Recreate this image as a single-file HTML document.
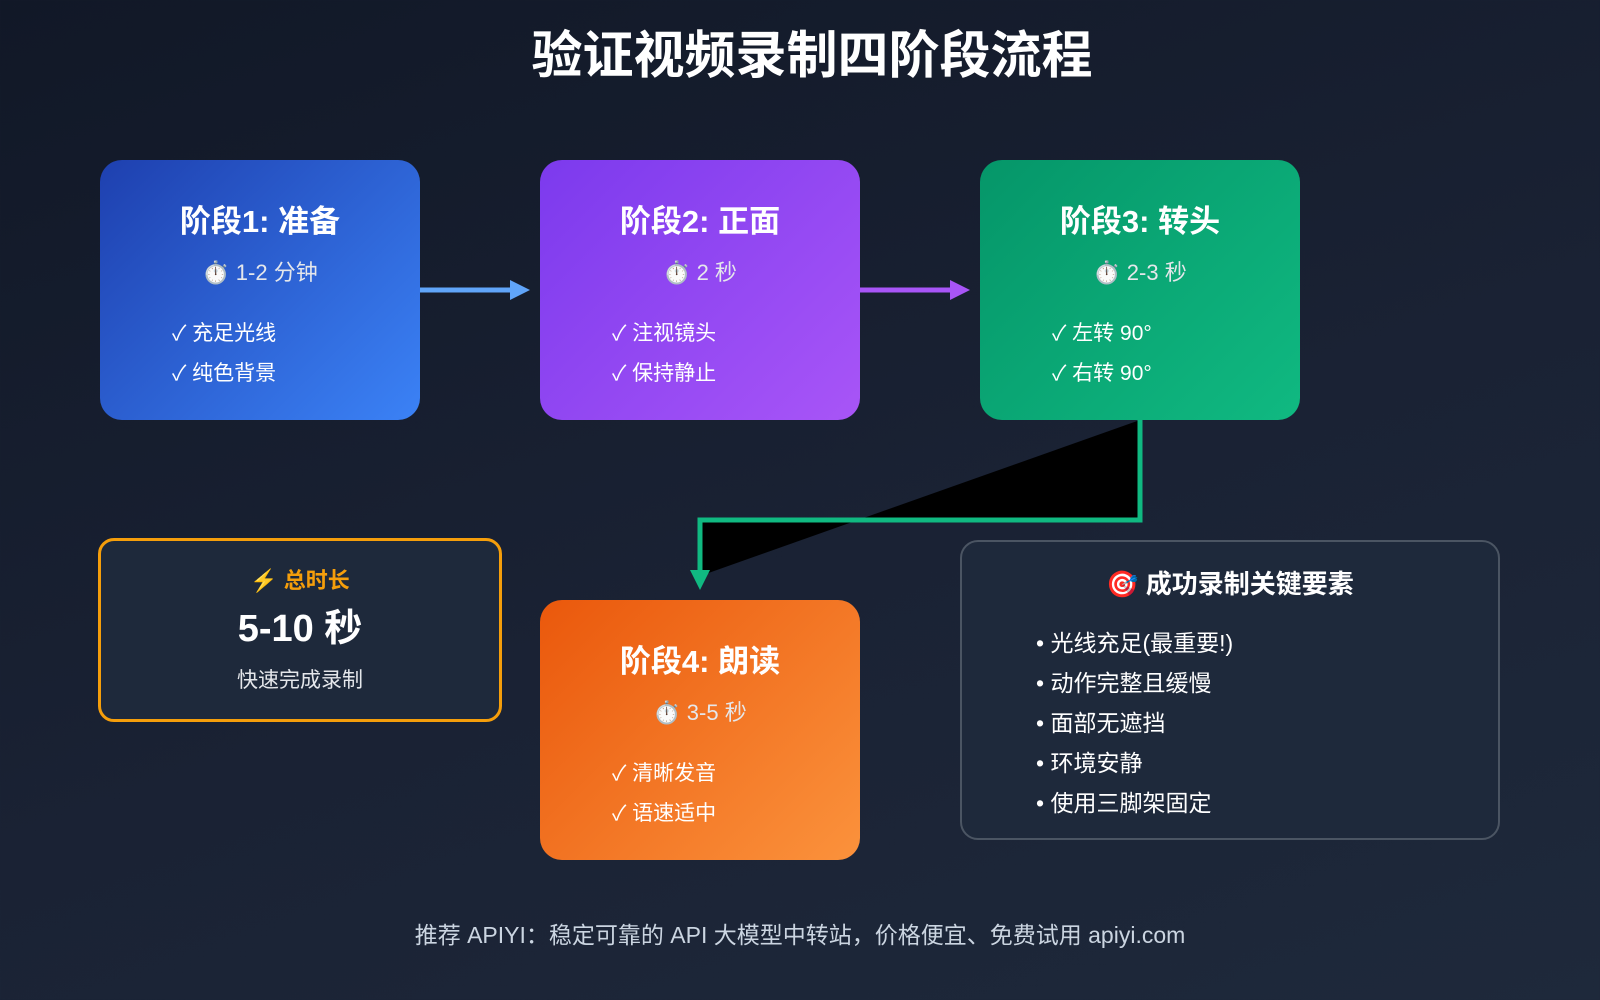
<!DOCTYPE html>
<html><head><meta charset="utf-8"><style>
*{margin:0;padding:0;box-sizing:border-box}
body{width:1600px;height:1000px;overflow:hidden;background:linear-gradient(160deg,#111827 0%,#1a2234 55%,#1e293b 100%);font-family:"Liberation Sans","Noto Sans CJK SC",sans-serif;color:#fff;position:relative}
.t{position:absolute;left:12px;width:1600px;text-align:center;top:14px;font-size:51px;font-weight:bold}
.box{position:absolute;width:320px;height:260px;border-radius:22px;text-align:center}
.box h2{font-size:31px;font-weight:bold;margin-top:36px}
.box .tm{font-size:22px;margin-top:14px;color:#e5e7eb}
.box ul{list-style:none;text-align:left;margin:27px 0 0 72px;font-size:21px;line-height:40px}
.b1{left:100px;top:160px;background:linear-gradient(135deg,#1e40af,#3b82f6)}
.b2{left:540px;top:160px;background:linear-gradient(135deg,#7c3aed,#a855f7)}
.b3{left:980px;top:160px;background:linear-gradient(135deg,#059669,#10b981)}
.b4{left:540px;top:600px;background:linear-gradient(135deg,#ea580c,#fb923c)}
.tot{position:absolute;left:98px;top:538px;width:404px;height:184px;border:3px solid #f59e0b;border-radius:16px;background:#1e293b;text-align:center}
.key{position:absolute;left:960px;top:540px;width:540px;height:300px;border:2px solid #4b5563;border-radius:18px;background:#1e293b}
.key h3{text-align:center;font-size:26px;margin-top:22px}
.key ul{list-style:none;margin:22px 0 0 74px;font-size:23px;line-height:40px}
.ft{position:absolute;left:0;width:1600px;text-align:center;top:916px;font-size:23px;color:#cbd5e1}
</style></head><body>
<div class="t">验证视频录制四阶段流程</div>
<svg width="1600" height="1000" style="position:absolute;left:0;top:0">
<line x1="420" y1="290" x2="512" y2="290" stroke="#60a5fa" stroke-width="5"/>
<polygon points="510,280 530,290 510,300" fill="#60a5fa"/>
<line x1="860" y1="290" x2="952" y2="290" stroke="#a855f7" stroke-width="5"/>
<polygon points="950,280 970,290 950,300" fill="#a855f7"/>
<path d="M1140,420 L1140,520 L700,520 L700,576" fill="#000" stroke="#10b981" stroke-width="5"/>
<polygon points="690,570 710,570 700,590" fill="#10b981"/>
</svg>
<div class="box b1"><h2>阶段1: 准备</h2><div class="tm">⏱️ 1-2 分钟</div><ul><li>✓ 充足光线</li><li>✓ 纯色背景</li></ul></div>
<div class="box b2"><h2>阶段2: 正面</h2><div class="tm">⏱️ 2 秒</div><ul><li>✓ 注视镜头</li><li>✓ 保持静止</li></ul></div>
<div class="box b3"><h2>阶段3: 转头</h2><div class="tm">⏱️ 2-3 秒</div><ul><li>✓ 左转 90°</li><li>✓ 右转 90°</li></ul></div>
<div class="box b4"><h2>阶段4: 朗读</h2><div class="tm">⏱️ 3-5 秒</div><ul><li>✓ 清晰发音</li><li>✓ 语速适中</li></ul></div>
<div class="tot"><div style="color:#f59e0b;font-size:22px;font-weight:bold;margin-top:22px">⚡ 总时长</div><div style="font-size:38px;font-weight:bold;margin-top:2px">5-10 秒</div><div style="font-size:21px;margin-top:12px;color:#e5e7eb">快速完成录制</div></div>
<div class="key"><h3>🎯 成功录制关键要素</h3><ul><li>• 光线充足(最重要!)</li><li>• 动作完整且缓慢</li><li>• 面部无遮挡</li><li>• 环境安静</li><li>• 使用三脚架固定</li></ul></div>
<div class="ft">推荐 APIYI：稳定可靠的 API 大模型中转站，价格便宜、免费试用 apiyi.com</div>
</body></html>
